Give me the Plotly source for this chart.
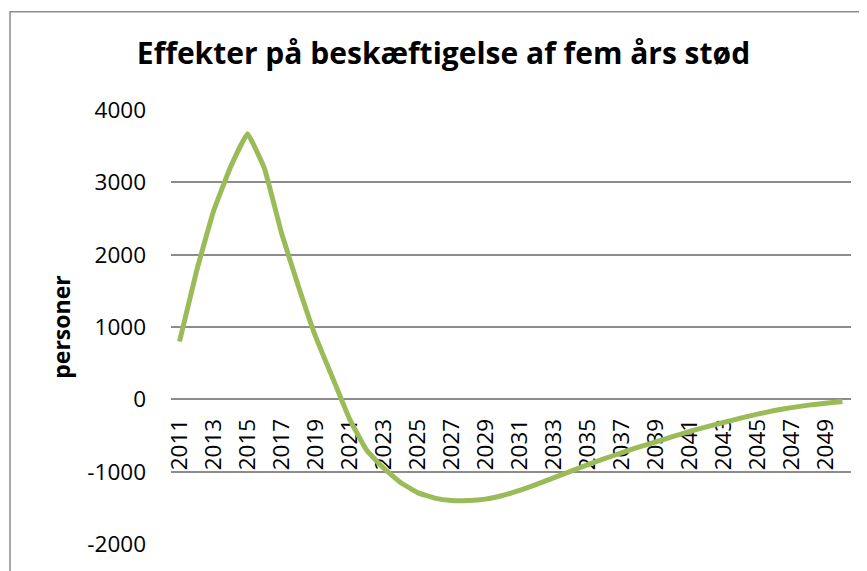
import plotly.graph_objects as go

years = [str(y) for y in range(2011, 2051)]
values = [800, 1770, 2600, 3210, 3670, 3190, 2300, 1560, 870, 300,
          -270, -700, -950, -1150, -1290, -1365, -1400, -1400, -1380, -1330,
          -1260, -1175, -1085, -995, -905, -820, -740, -660, -590, -515,
          -445, -380, -320, -260, -205, -155, -115, -80, -55, -30]

title_text = "Effekter på beskæftigelse af fem års stød"
y_title = "personer"
y_ticks = [-2000, -1000, 0, 1000, 2000, 3000, 4000]
y_ticktext = ["-2000", "-1000", "0", "1000", "2000", "3000", "4000"]

FONT = "Open Sans"
OFF = 8  # default body margin of the page
W, H = 867 - OFF, 571 - OFF
# plot area in page pixels: x 171..851, y 110..547
L, T = 171 - OFF, 110 - OFF
R = W - (851 - OFF)
B = H - (547 - OFF)
ymin, ymax = -2000, 4000
zero_pos = (0 - ymin) / (ymax - ymin)
pw = W - L - R
ph = H - T - B

fig = go.Figure()
fig.add_trace(go.Scatter(
    x=years, y=values, mode="lines",
    line=dict(color="#9BBB59", width=5, shape="spline", smoothing=0.3),
    hoverinfo="skip", showlegend=False,
))

fig.update_layout(
    width=W, height=H,
    margin=dict(l=L, r=R, t=T, b=B, pad=0),
    paper_bgcolor="white", plot_bgcolor="white",
    font=dict(family=FONT, color="black", size=22.5),
    title=dict(text="<b>" + title_text + "</b>", x=(443.5 - OFF) / W, xref="container",
               xanchor="center", y=1 - (53 - OFF) / H, yref="container", yanchor="middle",
               font=dict(size=30, family=FONT, color="black")),
    xaxis=dict(type="category", range=[-0.5, len(years) - 0.5],
               anchor="free", position=zero_pos,
               tickmode="array", tickvals=years[::2], ticktext=years[::2],
               tickangle=-90, showgrid=False, zeroline=False, showline=False,
               ticks="", ticklabelstandoff=14, layer="below traces",
               tickfont=dict(size=22.5, family=FONT)),
    yaxis=dict(range=[ymin, ymax], tickmode="array", tickvals=y_ticks, ticktext=y_ticktext,
               showgrid=True, gridcolor="#8C8C8C", gridwidth=1.5,
               zeroline=False, showline=False,
               ticks="", ticklabelstandoff=24,
               tickfont=dict(size=22.5, family=FONT),
               title=dict(text="<b>" + y_title + "</b>", standoff=10,
                          font=dict(size=23, family=FONT))),
    shapes=[dict(type="rect", xref="paper", yref="paper",
                 x0=(10 - OFF - L) / pw, x1=(W + 30 - L) / pw,
                 y0=-0.2, y1=(H - B - (11 - OFF)) / ph,
                 line=dict(color="#8C8C8C", width=1.5), fillcolor="rgba(0,0,0,0)",
                 layer="below")],
)

fig.write_html("out.html")
